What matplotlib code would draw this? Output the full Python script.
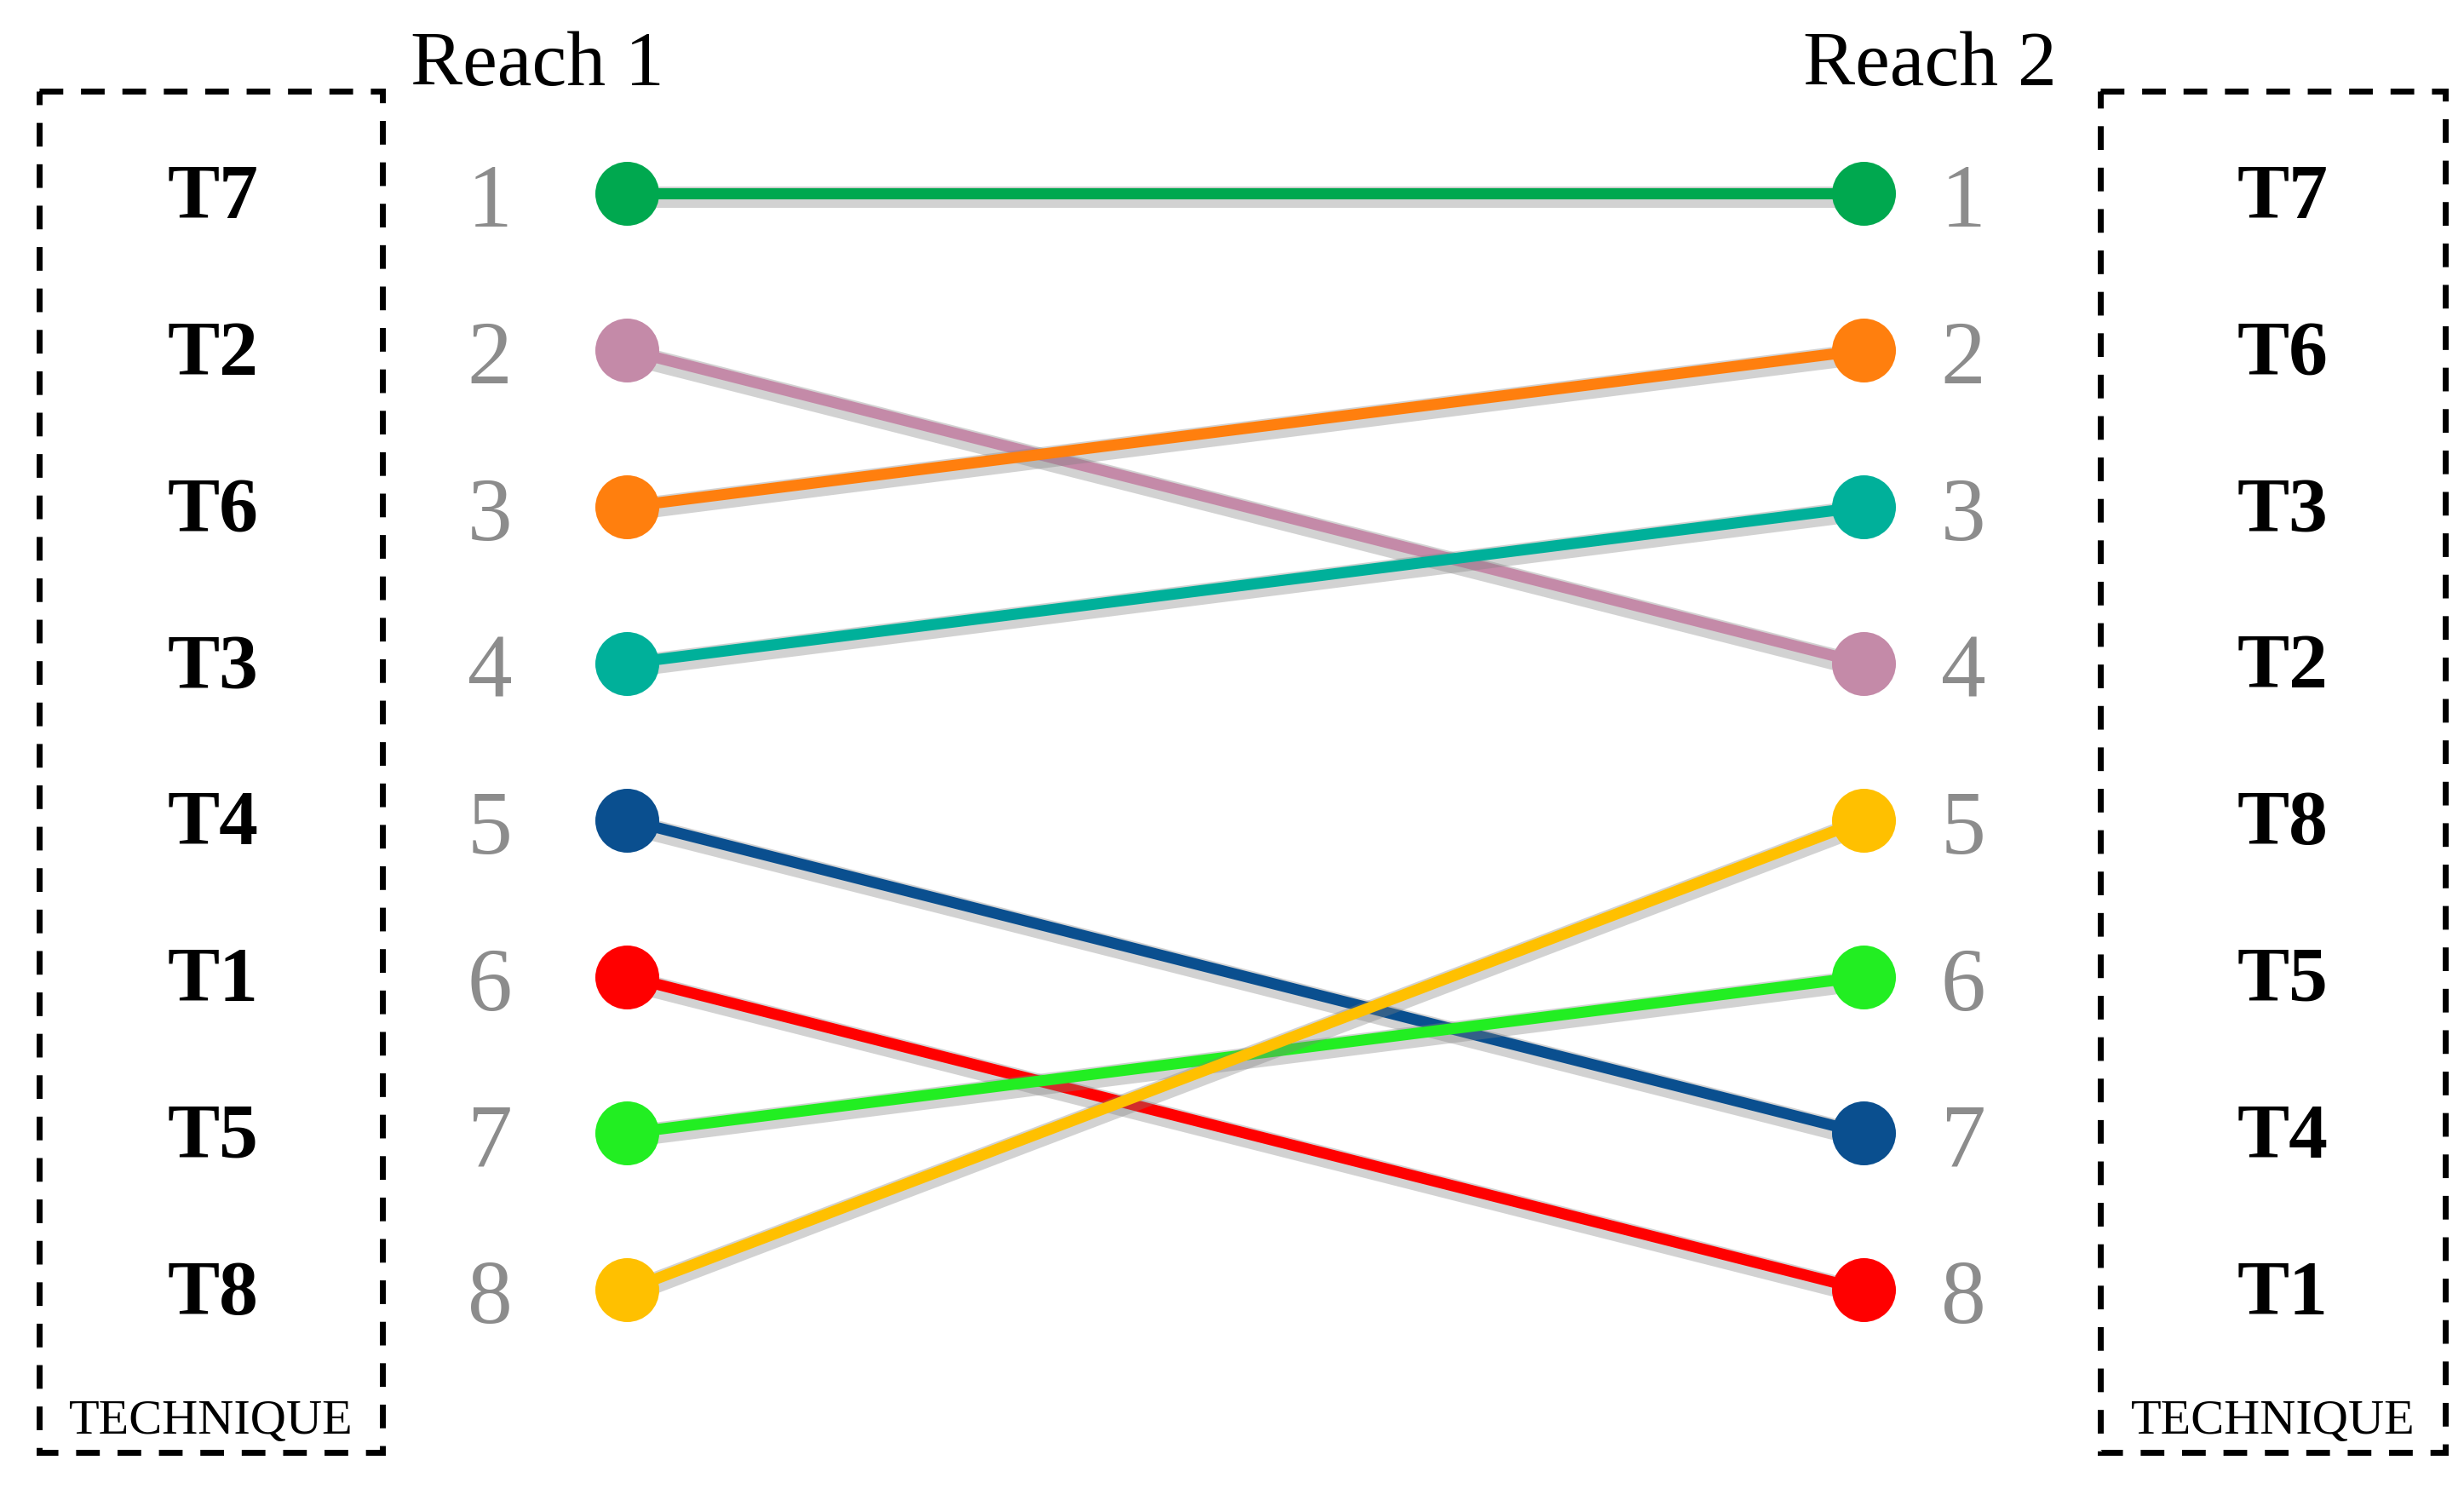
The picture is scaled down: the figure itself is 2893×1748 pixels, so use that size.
import matplotlib
matplotlib.use("Agg")
import matplotlib.pyplot as plt
import matplotlib.patheffects as pe
from matplotlib.patches import Rectangle

techniques = ["T7", "T2", "T6", "T3", "T4", "T1", "T5", "T8"]
rank_reach1 = [1, 2, 3, 4, 5, 6, 7, 8]
rank_reach2 = [1, 4, 2, 3, 7, 8, 6, 5]
colors = ["#00a84f", "#c48aa8", "#ff7f0e", "#00b09a", "#0a4f8f", "#ff0000", "#22ee22", "#ffc000"]
order_reach2 = ["T7", "T6", "T3", "T2", "T8", "T5", "T4", "T1"]
ranks = [1, 2, 3, 4, 5, 6, 7, 8]

fig = plt.figure(figsize=(2893/200, 1749/200), dpi=200)
ax = fig.add_axes([0, 0, 1, 1])
def px(x):
    return (x - 397) / 783.0
def py(y):
    return 1 + (y - 123) / 99.14
ax.set_xlim(px(0), px(1560))
ax.set_ylim(py(943), py(0))
ax.axis("off")

serif = ["Liberation Serif", "DejaVu Serif"]
shadow = [pe.SimpleLineShadow(offset=(0, -1.5), shadow_color="gray", alpha=0.35, linewidth=9), pe.Normal()]
for t, r1, r2, c in zip(techniques, rank_reach1, rank_reach2, colors):
    ax.plot([0, 1], [r1, r2], color=c, lw=4.7, solid_capstyle="round", path_effects=shadow, zorder=2)
    ax.plot([0, 1], [r1, r2], ls="none", marker="o", ms=27, color=c, mec="none", zorder=3)

for r, t1, t2 in zip(ranks, techniques, order_reach2):
    ax.text(px(310), r + 0.07, str(r), fontsize=38, color="#8c8c8c", ha="center", va="center", family=serif)
    ax.text(px(1243), r + 0.07, str(r), fontsize=38, color="#8c8c8c", ha="center", va="center", family=serif)
    ax.text(px(135), r + 0.03, t1, fontsize=33, fontweight="bold", ha="center", va="center", family=serif)
    ax.text(px(1445), r + 0.03, t2, fontsize=33, fontweight="bold", ha="center", va="center", family=serif)

for x0, x1 in [(25, 242), (1330, 1548)]:
    ax.add_patch(Rectangle((px(x0), py(58)), px(x1) - px(x0), py(920) - py(58), fill=False,
                           ls=(0, (4, 3)), lw=2.5, ec="black"))
    ax.text(px((x0 + x1) / 2), py(900), "TECHNIQUE", fontsize=21, ha="center", va="center", family=serif)

ax.text(px(340), py(42), "Reach 1", fontsize=33, ha="center", va="center", family=serif)
ax.text(px(1222), py(42), "Reach 2", fontsize=33, ha="center", va="center", family=serif)

fig.savefig("out.png", dpi=200)
